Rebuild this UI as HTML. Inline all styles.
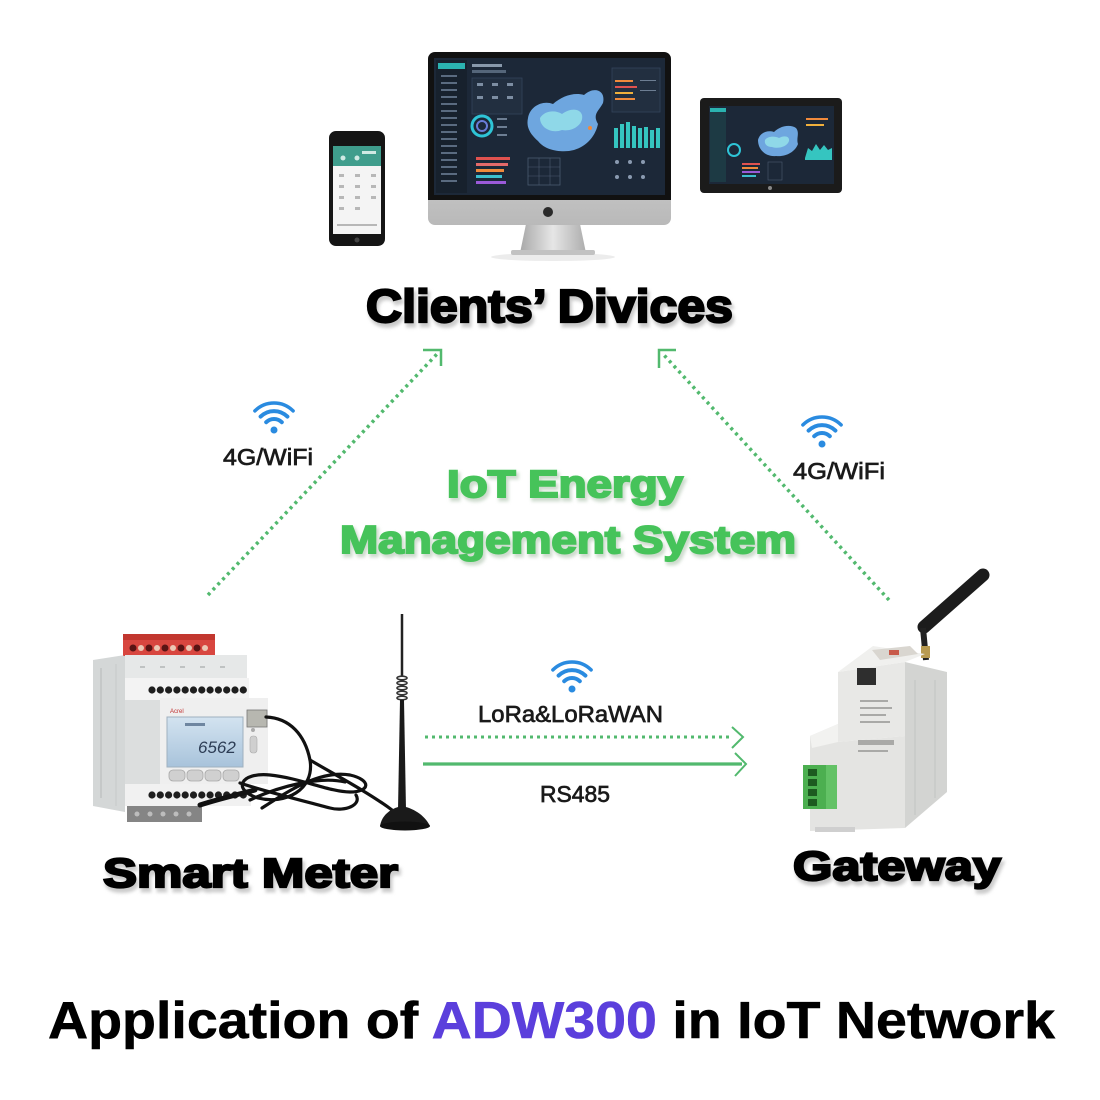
<!DOCTYPE html>
<html><head><meta charset="utf-8">
<style>html,body{margin:0;padding:0;background:#fff;}svg{display:block}</style></head>
<body>
<svg width="1100" height="1100" viewBox="0 0 1100 1100" xmlns="http://www.w3.org/2000/svg" font-family="'Liberation Sans', Arial, sans-serif">
<defs>
<filter id="sh" x="-10%" y="-40%" width="120%" height="180%"><feGaussianBlur stdDeviation="1.6"/></filter>
<linearGradient id="chin" x1="0" y1="0" x2="0" y2="1"><stop offset="0" stop-color="#e8e8e8"/><stop offset="1" stop-color="#b9b9b9"/></linearGradient>
<linearGradient id="stand" x1="0" y1="0" x2="1" y2="0"><stop offset="0" stop-color="#a8a8a8"/><stop offset="0.5" stop-color="#e6e6e6"/><stop offset="1" stop-color="#adadad"/></linearGradient>
<linearGradient id="lcd" x1="0" y1="0" x2="0" y2="1"><stop offset="0" stop-color="#d3e3f0"/><stop offset="1" stop-color="#a8c3db"/></linearGradient>
</defs>
<rect width="1100" height="1100" fill="#fff"/>

<!-- ===== PHONE ===== -->
<rect x="329" y="131" width="56" height="115" rx="7" fill="#151515"/>
<rect x="333" y="146" width="48" height="88" fill="#f4f4f4"/>
<rect x="333" y="146" width="48" height="20" fill="#3f9d8c"/>
<circle cx="343" cy="158" r="2.5" fill="#cfe9e3"/><circle cx="357" cy="158" r="2.5" fill="#cfe9e3"/><rect x="362" y="151" width="14" height="3" fill="#cfe9e3"/>
<g fill="#b7b7b7">
<rect x="339" y="174" width="5" height="3"/><rect x="355" y="174" width="5" height="3"/><rect x="371" y="174" width="5" height="3"/>
<rect x="339" y="185" width="5" height="3"/><rect x="355" y="185" width="5" height="3"/><rect x="371" y="185" width="5" height="3"/>
<rect x="339" y="196" width="5" height="3"/><rect x="355" y="196" width="5" height="3"/><rect x="371" y="196" width="5" height="3"/>
<rect x="339" y="207" width="5" height="3"/><rect x="355" y="207" width="5" height="3"/>
<rect x="337" y="224" width="40" height="2"/>
</g>
<circle cx="357" cy="240" r="2.5" fill="#444"/>

<!-- ===== MONITOR ===== -->
<ellipse cx="553" cy="257" rx="62" ry="4" fill="#ececec"/>
<polygon points="526,224 580,224 586,253 520,253" fill="url(#stand)"/>
<rect x="511" y="250" width="84" height="5" rx="2" fill="#c2c2c2"/>
<rect x="428" y="52" width="243" height="173" rx="7" fill="url(#chin)"/>
<path d="M435,52 h229 a7,7 0 0 1 7,7 v141 h-243 v-141 a7,7 0 0 1 7,-7z" fill="#111"/>
<rect x="434" y="58" width="231" height="137" fill="#1c2838"/>
<circle cx="548" cy="212" r="5" fill="#2a2a2a"/>
<!-- dashboard -->
<rect x="436" y="60" width="31" height="133" fill="#17212d"/>
<rect x="438" y="63" width="27" height="6" fill="#2bb3b0"/>
<g fill="#5a6b80">
<rect x="441" y="75" width="16" height="2"/><rect x="441" y="82" width="16" height="2"/><rect x="441" y="89" width="16" height="2"/><rect x="441" y="96" width="16" height="2"/><rect x="441" y="103" width="16" height="2"/><rect x="441" y="110" width="16" height="2"/><rect x="441" y="117" width="16" height="2"/><rect x="441" y="124" width="16" height="2"/><rect x="441" y="131" width="16" height="2"/><rect x="441" y="138" width="16" height="2"/><rect x="441" y="145" width="16" height="2"/><rect x="441" y="152" width="16" height="2"/><rect x="441" y="159" width="16" height="2"/><rect x="441" y="166" width="16" height="2"/><rect x="441" y="173" width="16" height="2"/><rect x="441" y="180" width="16" height="2"/>
</g>
<rect x="472" y="64" width="30" height="3" fill="#8898aa"/>
<rect x="472" y="70" width="34" height="3" fill="#55667a"/>
<rect x="472" y="78" width="50" height="36" fill="#222f40" stroke="#34445a" stroke-width="0.8"/>
<g fill="#7d8ea3"><rect x="477" y="83" width="6" height="3"/><rect x="492" y="83" width="6" height="3"/><rect x="507" y="83" width="6" height="3"/><rect x="477" y="96" width="6" height="3"/><rect x="492" y="96" width="6" height="3"/><rect x="507" y="96" width="6" height="3"/></g>
<circle cx="482" cy="126" r="10" fill="none" stroke="#2ec4d6" stroke-width="3"/>
<circle cx="482" cy="126" r="5" fill="none" stroke="#6a7dd8" stroke-width="2"/>
<g fill="#6d7e93"><rect x="497" y="118" width="10" height="2"/><rect x="497" y="126" width="10" height="2"/><rect x="497" y="134" width="10" height="2"/></g>
<path d="M528,118 C530,106 543,100 553,104 C562,96 574,92 584,95 C594,86 606,90 603,103 C599,111 592,114 598,124 C595,138 584,149 569,151 C558,152 545,150 538,141 C530,134 526,127 528,118 Z" fill="#6ea6df"/>
<path d="M540,118 C545,110 556,110 562,114 C570,108 580,108 582,115 C584,125 572,132 562,130 C552,134 540,128 540,118 Z" fill="#8fd8e8"/>
<circle cx="590" cy="128" r="2" fill="#f08a3c"/>
<rect x="612" y="68" width="48" height="44" fill="#222f40" stroke="#34445a" stroke-width="0.8"/>
<g><rect x="615" y="80" width="18" height="2" fill="#f08a3c"/><rect x="615" y="86" width="22" height="2" fill="#e0524f"/><rect x="615" y="92" width="18" height="2" fill="#f0b03c"/><rect x="615" y="98" width="20" height="2" fill="#f08a3c"/><rect x="640" y="80" width="16" height="1" fill="#6d7e93"/><rect x="640" y="90" width="16" height="1" fill="#6d7e93"/></g>
<g fill="#35c5c0">
<rect x="614" y="128" width="4" height="20"/><rect x="620" y="124" width="4" height="24"/><rect x="626" y="122" width="4" height="26"/><rect x="632" y="126" width="4" height="22"/><rect x="638" y="128" width="4" height="20"/><rect x="644" y="127" width="4" height="21"/><rect x="650" y="130" width="4" height="18"/><rect x="656" y="128" width="4" height="20"/>
</g>
<rect x="476" y="157" width="34" height="3" fill="#e0524f"/>
<rect x="476" y="163" width="32" height="3" fill="#e46a6a"/>
<rect x="476" y="169" width="28" height="3" fill="#f08a3c"/>
<rect x="476" y="175" width="26" height="3" fill="#3cc0d0"/>
<rect x="476" y="181" width="30" height="3" fill="#9b5ad8"/>
<rect x="528" y="158" width="32" height="27" fill="none" stroke="#4a5a70" stroke-width="0.8"/>
<path d="M528,167 h32 M528,176 h32 M539,158 v27 M550,158 v27" stroke="#4a5a70" stroke-width="0.6"/>
<g fill="#8a9ab0"><circle cx="617" cy="162" r="2"/><circle cx="630" cy="162" r="2"/><circle cx="643" cy="162" r="2"/><circle cx="617" cy="177" r="2"/><circle cx="630" cy="177" r="2"/><circle cx="643" cy="177" r="2"/></g>

<!-- ===== TABLET ===== -->
<rect x="700" y="98" width="142" height="95" rx="4" fill="#1b1b1b"/>
<rect x="709" y="106" width="125" height="78" fill="#1c2838"/>
<rect x="710" y="108" width="16" height="74" fill="#1d3a44"/>
<rect x="710" y="108" width="16" height="4" fill="#2bb3b0"/>
<path d="M758,140 C760,132 768,130 774,132 C780,126 790,124 796,128 C800,133 796,138 798,144 C795,152 786,157 776,156 C766,157 758,150 758,140 Z" fill="#6ea6df"/>
<path d="M765,140 C768,136 775,136 779,138 C784,135 790,136 789,141 C787,147 778,149 772,147 C767,147 764,144 765,140 Z" fill="#8fd8e8"/>
<circle cx="734" cy="150" r="6" fill="none" stroke="#2ec4d6" stroke-width="2"/>
<path d="M805,158 L808,148 L812,151 L816,144 L820,150 L824,145 L828,150 L832,148 L832,160 L805,160 Z" fill="#35c5c0"/>
<rect x="742" y="163" width="18" height="2" fill="#e0524f"/><rect x="742" y="167" width="16" height="2" fill="#f08a3c"/><rect x="742" y="171" width="18" height="2" fill="#9b5ad8"/><rect x="742" y="175" width="14" height="2" fill="#3cc0d0"/>
<rect x="806" y="118" width="22" height="2" fill="#f08a3c"/><rect x="806" y="124" width="18" height="2" fill="#f0b03c"/>
<rect x="768" y="162" width="14" height="18" fill="none" stroke="#4a5a70" stroke-width="0.6"/>
<circle cx="770" cy="188" r="2" fill="#888"/>

<!-- ===== CLIENTS TEXT ===== -->
<g font-weight="bold" font-size="46">
<text x="368" y="326" textLength="367" lengthAdjust="spacingAndGlyphs" fill="#c4c4c4" stroke="#cfcfcf" stroke-width="3" filter="url(#sh)">Clients’ Divices</text>
<text x="366" y="322" textLength="367" lengthAdjust="spacingAndGlyphs" fill="#000" stroke="#000" stroke-width="2.2">Clients’ Divices</text>
</g>

<!-- ===== DOTTED DIAGONALS ===== -->
<g stroke="#52b96e" fill="none">
<line x1="208" y1="595" x2="437" y2="354" stroke-width="3.5" stroke-dasharray="3 4"/>
<polyline points="423,350 441,350 441,366" stroke-width="2.5"/>
<line x1="889" y1="600" x2="663" y2="354" stroke-width="3.5" stroke-dasharray="3 4"/>
<polyline points="676,350 659,350 659,368" stroke-width="2.5"/>
</g>

<!-- ===== WIFI ICONS ===== -->
<g fill="none" stroke="#2a8be0" stroke-width="4" stroke-linecap="round">
<path d="M260.6,416.6 A19,19 0 0 1 287.4,416.6"/>
<path d="M266.2,422.2 A11,11 0 0 1 281.8,422.2"/>
<path d="M254.9,410.9 A27,27 0 0 1 293.1,410.9" stroke-width="3.5"/>
<path d="M808.6,430.6 A19,19 0 0 1 835.4,430.6"/>
<path d="M814.2,436.2 A11,11 0 0 1 829.8,436.2"/>
<path d="M802.9,424.9 A27,27 0 0 1 841.1,424.9" stroke-width="3.5"/>
<path d="M558.6,675.6 A19,19 0 0 1 585.4,675.6"/>
<path d="M564.2,681.2 A11,11 0 0 1 579.8,681.2"/>
<path d="M552.9,669.9 A27,27 0 0 1 591.1,669.9" stroke-width="3.5"/>
</g>
<g fill="#2a8be0">
<circle cx="274" cy="430" r="3.5"/><circle cx="822" cy="444" r="3.5"/><circle cx="572" cy="689" r="3.5"/>
</g>

<!-- ===== SMALL LABELS ===== -->
<g font-size="23" fill="#1a1a1a" stroke="#1a1a1a" stroke-width="0.7">
<text x="223" y="465" textLength="90" lengthAdjust="spacingAndGlyphs">4G/WiFi</text>
<text x="793" y="479" textLength="92" lengthAdjust="spacingAndGlyphs">4G/WiFi</text>
<text x="478" y="722" textLength="185" lengthAdjust="spacingAndGlyphs">LoRa&amp;LoRaWAN</text>
<text x="540" y="802" textLength="70" lengthAdjust="spacingAndGlyphs">RS485</text>
</g>

<!-- ===== GREEN TITLE ===== -->
<g font-weight="bold">
<text x="449" y="500" font-size="38" textLength="236" lengthAdjust="spacingAndGlyphs" fill="#c8d8c8" stroke="#cfdccf" stroke-width="3" filter="url(#sh)">IoT Energy</text>
<text x="342" y="556" font-size="39" textLength="456" lengthAdjust="spacingAndGlyphs" fill="#c8d8c8" stroke="#cfdccf" stroke-width="3" filter="url(#sh)">Management System</text>
<text x="447" y="497" font-size="38" textLength="236" lengthAdjust="spacingAndGlyphs" fill="#46c35a" stroke="#46c35a" stroke-width="2">IoT Energy</text>
<text x="340" y="553" font-size="39" textLength="456" lengthAdjust="spacingAndGlyphs" fill="#46c35a" stroke="#46c35a" stroke-width="2">Management System</text>
</g>

<!-- ===== HORIZONTAL CONNECTORS ===== -->
<g stroke="#52b96e" fill="none">
<line x1="425" y1="737" x2="730" y2="737" stroke-width="3" stroke-dasharray="3 4"/>
<polyline points="732,727 743,737 732,748" stroke-width="2"/>
<line x1="423" y1="764" x2="742" y2="764" stroke-width="3.2"/>
<polyline points="735,753 746,764 735,776" stroke-width="2"/>
</g>

<!-- ===== SMART METER ===== -->
<polygon points="93,660 125,655 125,812 93,806" fill="#d4d7d7"/>
<line x1="101" y1="668" x2="101" y2="798" stroke="#c0c3c3" stroke-width="1.5"/>
<line x1="116" y1="664" x2="116" y2="806" stroke="#c6c9c9" stroke-width="1"/>
<rect x="123" y="634" width="92" height="22" fill="#d8463f" rx="1"/>
<rect x="123" y="634" width="92" height="6" fill="#c2372f"/>
<g fill="#5a1414"><circle cx="133" cy="648" r="3.5"/><circle cx="149" cy="648" r="3.5"/><circle cx="165" cy="648" r="3.5"/><circle cx="181" cy="648" r="3.5"/><circle cx="197" cy="648" r="3.5"/></g>
<g fill="#ecc7b4"><circle cx="141" cy="648" r="3"/><circle cx="157" cy="648" r="3"/><circle cx="173" cy="648" r="3"/><circle cx="189" cy="648" r="3"/><circle cx="205" cy="648" r="3"/></g>
<rect x="125" y="655" width="122" height="25" fill="#e6e8e8"/>
<rect x="125" y="678" width="124" height="22" fill="#f3f3f3"/>
<g fill="#bfc2c2"><rect x="140" y="666" width="5" height="2"/><rect x="160" y="666" width="5" height="2"/><rect x="180" y="666" width="5" height="2"/><rect x="200" y="666" width="5" height="2"/><rect x="220" y="666" width="5" height="2"/></g>
<g fill="#1e1e1e">
<circle cx="152" cy="690" r="3.6"/><circle cx="160.3" cy="690" r="3.6"/><circle cx="168.6" cy="690" r="3.6"/><circle cx="176.9" cy="690" r="3.6"/><circle cx="185.2" cy="690" r="3.6"/><circle cx="193.5" cy="690" r="3.6"/><circle cx="201.8" cy="690" r="3.6"/><circle cx="210.1" cy="690" r="3.6"/><circle cx="218.4" cy="690" r="3.6"/><circle cx="226.7" cy="690" r="3.6"/><circle cx="235" cy="690" r="3.6"/><circle cx="243.3" cy="690" r="3.6"/>
</g>
<rect x="125" y="700" width="36" height="84" fill="#dcdede"/>
<rect x="160" y="698" width="108" height="86" fill="#efefef"/>
<rect x="167" y="717" width="76" height="50" fill="url(#lcd)" stroke="#9fb0bf"/>
<text x="198" y="753" font-size="17" font-style="italic" fill="#2d3d55">6562</text>
<rect x="185" y="723" width="20" height="3" fill="#6f86a0"/>
<text x="170" y="713" font-size="6" fill="#c03030">Acrel</text>
<rect x="250" y="736" width="7" height="17" rx="3" fill="#cfcfcf" stroke="#aaa" stroke-width="0.6"/>
<circle cx="253" cy="730" r="2" fill="#aaa"/>
<g fill="#d0d0d0" stroke="#a8a8a8" stroke-width="0.8">
<rect x="169" y="770" width="16" height="11" rx="4"/><rect x="187" y="770" width="16" height="11" rx="4"/><rect x="205" y="770" width="16" height="11" rx="4"/><rect x="223" y="770" width="16" height="11" rx="4"/>
</g>
<rect x="125" y="784" width="126" height="22" fill="#f1f1f1"/>
<g fill="#1e1e1e">
<circle cx="152" cy="795" r="3.6"/><circle cx="160.3" cy="795" r="3.6"/><circle cx="168.6" cy="795" r="3.6"/><circle cx="176.9" cy="795" r="3.6"/><circle cx="185.2" cy="795" r="3.6"/><circle cx="193.5" cy="795" r="3.6"/><circle cx="201.8" cy="795" r="3.6"/><circle cx="210.1" cy="795" r="3.6"/><circle cx="218.4" cy="795" r="3.6"/><circle cx="226.7" cy="795" r="3.6"/><circle cx="235" cy="795" r="3.6"/><circle cx="243.3" cy="795" r="3.6"/>
</g>
<rect x="127" y="806" width="75" height="16" fill="#858585"/>
<g fill="#bdbdbd"><circle cx="137" cy="814" r="2.5"/><circle cx="150" cy="814" r="2.5"/><circle cx="163" cy="814" r="2.5"/><circle cx="176" cy="814" r="2.5"/><circle cx="189" cy="814" r="2.5"/></g>
<rect x="247" y="710" width="20" height="17" fill="#b7b7b0" stroke="#777" stroke-width="0.8"/>
<!-- cable -->
<g fill="none" stroke="#111" stroke-width="3.2" stroke-linecap="round">
<path d="M266,717 C290,718 305,735 310,760 C315,790 285,805 258,798 C232,790 240,772 270,775 C300,778 330,792 350,792 C370,792 372,780 350,775 C320,770 290,790 262,808"/>
<path d="M310,760 C330,772 368,792 392,810"/>
<path d="M240,783 C260,790 300,800 330,808 C345,812 362,805 356,795"/>
<path d="M250,800 C280,786 320,776 345,782"/>
<path d="M200,805 C215,800 235,795 255,790" stroke-width="5"/>
</g>
<!-- antenna -->
<line x1="402" y1="614" x2="402" y2="676" stroke="#222" stroke-width="2.5"/>
<g fill="none" stroke="#333" stroke-width="1.6">
<ellipse cx="402" cy="678" rx="5" ry="1.8"/><ellipse cx="402" cy="683" rx="5" ry="1.8"/><ellipse cx="402" cy="688" rx="5" ry="1.8"/><ellipse cx="402" cy="693" rx="5" ry="1.8"/><ellipse cx="402" cy="698" rx="5" ry="1.8"/>
</g>
<path d="M400,700 L404,700 L406,810 L398,810 Z" fill="#1a1a1a"/>
<path d="M380,826 C382,814 392,808 402,806 C412,808 424,814 430,826 Z" fill="#1a1a1a"/>
<ellipse cx="405" cy="826" rx="25" ry="4.5" fill="#111"/>

<!-- ===== GATEWAY ===== -->
<line x1="983" y1="575" x2="924" y2="627" stroke="#1c1c1c" stroke-width="13" stroke-linecap="round"/>
<line x1="923" y1="628" x2="926" y2="660" stroke="#222" stroke-width="6"/>
<rect x="921" y="646" width="9" height="12" fill="#b89a50"/>
<polygon points="905,662 947,672 947,792 905,828" fill="#d3d4d2"/>
<line x1="915" y1="680" x2="915" y2="815" stroke="#c2c3c1" stroke-width="1"/>
<line x1="935" y1="680" x2="935" y2="798" stroke="#c2c3c1" stroke-width="1"/>
<polygon points="838,672 905,662 905,736 838,742" fill="#e8e8e6"/>
<polygon points="838,672 873,646 925,654 905,662" fill="#f0f0ee"/>
<polygon points="872,650 910,646 918,654 880,660" fill="#d9d6d0"/>
<rect x="889" y="650" width="10" height="5" fill="#c85a4a"/>
<rect x="857" y="668" width="19" height="17" fill="#2e2e2e"/>
<polygon points="810,736 838,724 838,742 905,736 905,828 810,831" fill="#e4e4e2"/>
<polygon points="810,736 838,724 838,742 812,748" fill="#f2f2f0"/>
<g fill="#a9a9a7">
<rect x="860" y="700" width="28" height="2"/><rect x="860" y="707" width="32" height="2"/><rect x="860" y="714" width="26" height="2"/><rect x="860" y="721" width="30" height="2"/>
<rect x="858" y="740" width="36" height="5"/><rect x="858" y="750" width="30" height="2"/>
</g>
<rect x="803" y="765" width="34" height="44" fill="#4caf50"/>
<rect x="826" y="765" width="11" height="44" fill="#63c266"/>
<g fill="#1d5a20"><rect x="808" y="769" width="9" height="7"/><rect x="808" y="779" width="9" height="7"/><rect x="808" y="789" width="9" height="7"/><rect x="808" y="799" width="9" height="7"/></g>
<rect x="815" y="827" width="40" height="5" fill="#cfcfcf"/>

<!-- ===== DEVICE LABELS ===== -->
<g font-weight="bold" font-size="41">
<text x="105" y="891" textLength="295" lengthAdjust="spacingAndGlyphs" fill="#c4c4c4" stroke="#cfcfcf" stroke-width="3" filter="url(#sh)">Smart Meter</text>
<text x="103" y="887" textLength="295" lengthAdjust="spacingAndGlyphs" fill="#000" stroke="#000" stroke-width="2.2">Smart Meter</text>
<text x="795" y="884" textLength="208" lengthAdjust="spacingAndGlyphs" fill="#c4c4c4" stroke="#cfcfcf" stroke-width="3" filter="url(#sh)">Gateway</text>
<text x="793" y="880" textLength="208" lengthAdjust="spacingAndGlyphs" fill="#000" stroke="#000" stroke-width="2.2">Gateway</text>
</g>

<!-- ===== BOTTOM TITLE ===== -->
<text x="48" y="1038" font-size="52" font-weight="bold" textLength="1007" lengthAdjust="spacingAndGlyphs" fill="#000" stroke="#000" stroke-width="0.6">Application of <tspan fill="#5b3fdc" stroke="#5b3fdc">ADW300</tspan> in IoT Network</text>
</svg>
</body></html>
